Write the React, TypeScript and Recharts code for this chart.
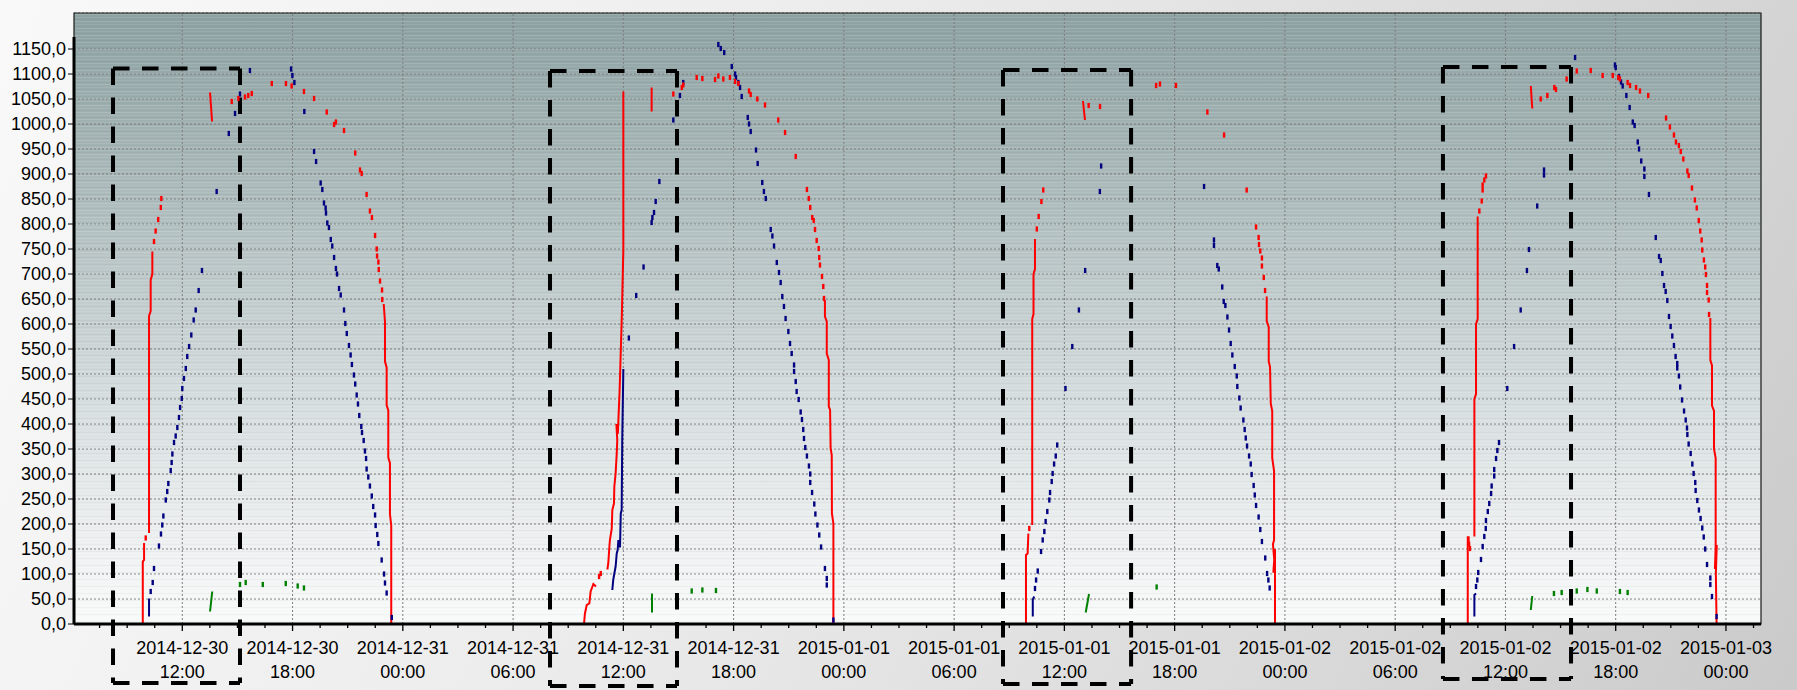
import React from 'react';
import {
  ComposedChart,
  XAxis,
  YAxis,
  CartesianGrid,
  Line,
  Scatter,
  ReferenceArea,
  ReferenceLine,
} from 'recharts';

type P = [number, number];

const FONT = 'Liberation Sans, Arial, sans-serif';

const dayLabels = ['2014-12-30', '2014-12-31', '2015-01-01', '2015-01-02', '2015-01-03'];
const hourLabels = ['00:00', '06:00', '12:00', '18:00'];
const majorTicks = [12, 18, 24, 30, 36, 42, 48, 54, 60, 66, 72, 78, 84, 90, 96];
const minorTicks = [7.5, 9, 10.5, 13.5, 15, 16.5, 19.5, 21, 22.5, 25.5, 27, 28.5, 31.5, 33, 34.5, 37.5, 39, 40.5, 43.5, 45, 46.5, 49.5, 51, 52.5, 55.5, 57, 58.5, 61.5, 63, 64.5, 67.5, 69, 70.5, 73.5, 75, 76.5, 79.5, 81, 82.5, 85.5, 87, 88.5, 91.5, 93, 94.5, 97.5];
const yTicks = [0, 50, 100, 150, 200, 250, 300, 350, 400, 450, 500, 550, 600, 650, 700, 750, 800, 850, 900, 950, 1000, 1050, 1100, 1150];
const xDomain: [number, number] = [6.107, 97.907];
const yDomain: [number, number] = [0, 1222];

const redLines: P[][] = [
  [[9.85, 0], [9.85, 125], [9.92, 128], [9.92, 162]],
  [[10.19, 182], [10.19, 616], [10.28, 626], [10.28, 688], [10.37, 700], [10.37, 745]],
  [[13.51, 1063], [13.62, 1005]],
  [[22.96, 640], [23.03, 604], [23.03, 525], [23.12, 513], [23.12, 438], [23.21, 427], [23.21, 333], [23.30, 322], [23.30, 220], [23.37, 197], [23.37, 0]],
  [[33.86, 0], [33.91, 21], [34.01, 38], [34.15, 41], [34.22, 65], [34.37, 80], [34.51, 75]],
  [[35.13, 109], [35.18, 121], [35.24, 155], [35.27, 168], [35.37, 191], [35.40, 228], [35.49, 241], [35.51, 275], [35.58, 301], [35.64, 341], [35.67, 368], [35.62, 400], [35.70, 380], [35.80, 470], [35.92, 620], [35.97, 700], [36.0, 748], [36.0, 1065]],
  [[37.54, 1073], [37.54, 1025]],
  [[46.97, 648], [46.97, 615], [47.07, 605], [47.07, 541], [47.18, 528], [47.18, 435], [47.25, 428], [47.28, 351], [47.34, 338], [47.35, 221], [47.43, 201], [47.43, 0]],
  [[57.91, 0], [57.91, 138], [58.0, 141], [58.04, 181]],
  [[58.25, 198], [58.25, 610], [58.32, 620], [58.32, 700], [58.40, 710], [58.40, 770]],
  [[61.01, 1046], [61.12, 1008]],
  [[71.01, 655], [71.01, 606], [71.12, 594], [71.12, 525], [71.19, 514], [71.23, 441], [71.31, 426], [71.31, 332], [71.41, 306], [71.41, 168], [71.35, 160], [71.46, 110], [71.37, 103], [71.46, 150], [71.46, 0]],
  [[81.95, 0], [81.95, 175]],
  [[82.31, 175], [82.31, 450], [82.40, 460], [82.40, 600], [82.49, 610], [82.49, 815]],
  [[85.38, 1076], [85.46, 1031]],
  [[95.15, 612], [95.15, 528], [95.24, 517], [95.24, 437], [95.35, 426], [95.35, 350], [95.44, 332], [95.44, 154], [95.40, 110], [95.50, 158], [95.45, 101], [95.49, 0]],
];

const redDots: P[] = [
  [10.01, 172], [10.46, 765], [10.55, 786], [10.69, 809], [10.83, 833], [10.86, 851],
  [14.69, 1045], [15.05, 1051], [15.41, 1054], [15.59, 1057], [15.78, 1061], [16.87, 1081], [17.64, 1081], [17.95, 1076],
  [18.62, 1065], [19.17, 1051], [19.86, 1024], [20.36, 1004], [20.26, 999], [20.80, 987], [21.41, 942], [21.67, 908],
  [21.76, 901], [22.03, 859], [22.21, 826], [22.32, 813], [22.49, 777], [22.58, 750], [22.60, 736], [22.67, 724],
  [22.69, 709], [22.76, 686], [22.87, 668], [22.88, 649],
  [34.68, 95], [34.77, 101],
  [38.72, 1060], [39.18, 1073], [39.26, 1078], [39.99, 1093], [40.30, 1091], [40.99, 1089], [41.17, 1096], [41.44, 1090],
  [41.80, 1093], [42.08, 1085], [42.26, 1081], [42.84, 1066], [42.93, 1059], [43.29, 1050], [43.71, 1038], [44.43, 1008],
  [44.80, 983], [45.38, 935], [45.99, 869], [46.09, 851], [46.17, 833], [46.28, 813], [46.36, 807], [46.43, 789],
  [46.52, 767], [46.63, 751], [46.66, 733], [46.70, 718], [46.81, 695], [46.88, 675], [46.92, 651],
  [58.09, 191], [58.5, 790], [58.6, 815], [58.75, 845], [58.85, 868],
  [61.32, 1037], [61.94, 1035], [64.99, 1077], [65.20, 1080], [66.07, 1077], [67.78, 1024], [68.69, 978], [69.92, 868],
  [70.43, 794], [70.57, 773], [70.59, 759], [70.66, 746], [70.75, 732], [70.75, 716], [70.85, 693], [70.92, 667],
  [81.99, 170], [82.02, 160], [82.07, 151],
  [82.58, 826], [82.71, 846], [82.76, 868], [82.76, 878], [82.85, 888], [82.94, 896],
  [85.92, 1050], [86.28, 1057], [86.66, 1073], [86.75, 1069], [87.33, 1090], [87.88, 1106], [88.64, 1107], [89.29, 1097],
  [89.84, 1097], [90.14, 1093], [90.23, 1090], [90.65, 1083], [90.78, 1077], [91.11, 1073], [91.32, 1066], [91.77, 1057],
  [92.74, 1012], [92.95, 994], [93.17, 978], [93.28, 964], [93.44, 957], [93.54, 945], [93.68, 930], [93.90, 906],
  [93.97, 897], [94.15, 872], [94.31, 848], [94.41, 832], [94.52, 807], [94.60, 786], [94.68, 768], [94.71, 748],
  [94.80, 728], [94.87, 714], [94.91, 699], [94.97, 677], [94.97, 663], [95.06, 648], [95.08, 619],
];

const blueLines: P[][] = [
  [[10.19, 15], [10.19, 51]],
  [[35.40, 68], [35.45, 88], [35.51, 101], [35.58, 115], [35.64, 141], [35.69, 148], [35.73, 168], [35.76, 155], [35.82, 155], [35.86, 221], [35.91, 228], [35.94, 368], [36.0, 510]],
  [[58.28, 15], [58.28, 49], [58.36, 55]],
  [[82.31, 15], [82.31, 58], [82.40, 61]],
];

const blueDots: P[] = [
  [10.28, 65], [10.39, 83], [10.46, 111], [10.73, 156], [10.84, 180], [10.91, 198], [10.97, 216], [11.10, 248],
  [11.18, 265], [11.24, 281], [11.37, 307], [11.42, 323], [11.46, 340], [11.55, 363], [11.64, 376], [11.73, 393],
  [11.82, 413], [11.88, 433], [11.97, 451], [12.0, 471], [12.09, 491], [12.19, 511], [12.27, 535], [12.37, 555],
  [12.49, 578], [12.62, 608], [12.73, 628], [12.89, 667], [13.07, 707], [13.87, 865], [14.53, 981], [14.87, 1021],
  [15.14, 1060], [15.68, 1107], [17.92, 1110], [17.99, 1097], [18.10, 1083], [18.64, 1025], [19.17, 945], [19.28, 925],
  [19.53, 882], [19.62, 869], [19.71, 842], [19.80, 832], [19.82, 822], [19.89, 802], [19.98, 793], [20.08, 769],
  [20.16, 756], [20.26, 733], [20.36, 711], [20.42, 700], [20.53, 671], [20.62, 658], [20.80, 628], [20.87, 601],
  [20.95, 581], [21.07, 557], [21.16, 538], [21.23, 519], [21.34, 498], [21.41, 480], [21.49, 458], [21.56, 440],
  [21.63, 417], [21.74, 395], [21.78, 383], [21.87, 367], [21.94, 346], [22.0, 331], [22.03, 310], [22.12, 294],
  [22.21, 276], [22.31, 256], [22.39, 235], [22.49, 218], [22.52, 197], [22.61, 179], [22.67, 161], [22.85, 128],
  [22.98, 100], [23.03, 82], [23.12, 62], [23.40, 13],
  [36.3, 572], [36.7, 657], [37.1, 714], [37.54, 803], [37.58, 813], [37.67, 823], [37.76, 845], [37.96, 885],
  [38.72, 1008], [39.08, 1057], [39.26, 1083],
  [41.17, 1159], [41.30, 1151], [41.49, 1143], [41.90, 1115], [42.08, 1100], [42.13, 1093], [42.26, 1083], [42.35, 1073],
  [42.44, 1055], [42.77, 1013], [42.84, 1000], [42.93, 985], [43.22, 948], [43.31, 921], [43.56, 883], [43.65, 865],
  [43.75, 851], [44.02, 789], [44.11, 776], [44.20, 756], [44.35, 723], [44.47, 703], [44.56, 683], [44.65, 655],
  [44.74, 635], [44.83, 611], [44.98, 585], [45.07, 561], [45.16, 541], [45.29, 518], [45.29, 505], [45.38, 485],
  [45.43, 465], [45.54, 449], [45.65, 424], [45.72, 409], [45.79, 389], [45.83, 371], [45.90, 353], [45.99, 336],
  [46.10, 316], [46.17, 300], [46.17, 283], [46.27, 263], [46.39, 240], [46.45, 220], [46.56, 198], [46.66, 178],
  [46.76, 154], [46.97, 111], [47.07, 91], [47.07, 78], [47.43, 8],
  [58.40, 71], [58.46, 88], [58.55, 106], [58.73, 145], [58.82, 168], [58.91, 185], [58.98, 205], [59.07, 225],
  [59.18, 248], [59.22, 263], [59.31, 285], [59.36, 301], [59.44, 320], [59.53, 336], [59.61, 358], [60.06, 471],
  [60.43, 555], [60.79, 628], [61.13, 707], [61.93, 865], [62.0, 916],
  [67.60, 875], [68.14, 768], [68.14, 757], [68.32, 717], [68.40, 710], [68.59, 674], [68.67, 645], [68.76, 637],
  [68.87, 614], [68.96, 588], [69.05, 561], [69.14, 538], [69.27, 515], [69.38, 496], [69.41, 475], [69.52, 452],
  [69.59, 432], [69.74, 408], [69.81, 389], [69.87, 372], [69.94, 356], [70.05, 336], [70.14, 320], [70.19, 299],
  [70.30, 277], [70.36, 258], [70.43, 237], [70.57, 214], [70.66, 189], [70.75, 165], [70.93, 132], [71.03, 101],
  [71.10, 88], [71.17, 72],
  [82.40, 75], [82.47, 88], [82.52, 103], [82.67, 129], [82.76, 155], [82.85, 175], [82.93, 191], [82.94, 207],
  [83.04, 225], [83.12, 241], [83.22, 261], [83.25, 276], [83.39, 296], [83.39, 309], [83.49, 331], [83.56, 347],
  [83.65, 363], [84.1, 471], [84.47, 555], [84.83, 628], [85.17, 707], [85.28, 749], [85.73, 836], [86.10, 908],
  [86.10, 898], [87.79, 1133], [89.96, 1118], [90.0, 1113], [90.18, 1095], [90.29, 1084], [90.38, 1076], [90.58, 1057],
  [90.76, 1033], [90.93, 1004], [91.03, 997], [91.20, 964], [91.27, 950], [91.39, 926], [91.56, 910], [91.56, 895],
  [91.81, 859], [92.18, 773], [92.36, 735], [92.45, 727], [92.54, 701], [92.63, 677], [92.72, 665], [92.81, 647],
  [92.90, 615], [92.99, 595], [93.08, 576], [93.17, 557], [93.26, 535], [93.35, 521], [93.35, 512], [93.44, 496],
  [93.51, 474], [93.61, 448], [93.72, 426], [93.81, 408], [93.88, 392], [93.90, 379], [93.97, 360], [94.08, 341],
  [94.17, 320], [94.24, 301], [94.33, 283], [94.35, 267], [94.44, 247], [94.53, 228], [94.62, 211], [94.71, 192],
  [94.79, 174], [94.87, 150], [94.97, 119], [95.15, 92], [95.15, 79], [95.24, 55], [95.49, 15],
];

const greenLines: P[][] = [
  [[13.51, 25], [13.63, 65]],
  [[37.56, 23], [37.56, 61]],
  [[61.16, 23], [61.34, 60]],
  [[85.38, 28], [85.46, 56]],
];

const greenDots: P[] = [
  [15.14, 79], [15.45, 83], [16.38, 79], [17.63, 81], [18.28, 76], [18.62, 72],
  [39.72, 66], [40.30, 68], [41.04, 67],
  [65.02, 74],
  [86.64, 61], [87.06, 63], [87.88, 66], [88.46, 69], [88.97, 66], [90.23, 65], [90.65, 63],
];

// dashed annotation boxes: [t1, t2, top value, bottom value]
const boxes: [number, number, number, number][] = [
  [8.23, 15.14, 1111, -118],
  [32.01, 38.92, 1106, -124],
  [56.66, 63.63, 1108, -120],
  [80.60, 87.57, 1114, -110],
];

const toPts = (a: P[]) => a.map(([t, v]) => ({ t, v }));
const fmtY = (v: number) => v.toFixed(1).replace('.', ',');

const XTick = (props: any) => {
  const { x, y, payload } = props;
  const t = payload.value as number;
  const major = Math.abs(t / 6 - Math.round(t / 6)) < 1e-6;
  if (!major) {
    return <line x1={x} x2={x} y1={y} y2={y + 4} stroke="#000" strokeWidth={1.3} />;
  }
  const day = Math.floor(t / 24 + 1e-9);
  const hr = Math.round((t - day * 24) / 6);
  return (
    <g>
      <line x1={x} x2={x} y1={y} y2={y + 7} stroke="#000" strokeWidth={1.3} />
      <text x={x} y={y + 30} textAnchor="middle" fontSize={18} fontFamily={FONT} fill="#000">
        {dayLabels[day]}
      </text>
      <text x={x} y={y + 53.5} textAnchor="middle" fontSize={18} fontFamily={FONT} fill="#000">
        {hourLabels[hr]}
      </text>
    </g>
  );
};

const dotShape = (color: string) => (p: any) => (
  <rect x={p.cx - 1.2} y={p.cy - 2.6} width={2.4} height={5.2} fill={color} />
);

const RED = '#ff0000';
const BLUE = '#000080';
const GREEN = '#008000';

export default function App() {
  const allTicks = [...majorTicks, ...minorTicks].sort((a, b) => a - b);
  const boxEdges: { k: string; seg: { x: number; y: number }[] }[] = [];
  boxes.forEach(([t1, t2, top, bot], i) => {
    boxEdges.push({ k: `t${i}`, seg: [{ x: t1, y: top }, { x: t2, y: top }] });
    boxEdges.push({ k: `r${i}`, seg: [{ x: t2, y: top }, { x: t2, y: bot }] });
    boxEdges.push({ k: `b${i}`, seg: [{ x: t1, y: bot }, { x: t2, y: bot }] });
    boxEdges.push({ k: `l${i}`, seg: [{ x: t1, y: top }, { x: t1, y: bot }] });
  });
  return (
    <div
      style={{
        position: 'absolute',
        left: 0,
        top: 0,
        width: 1797,
        height: 690,
        overflow: 'visible',
        background: 'linear-gradient(115deg, #f9f9f9 0%, #ececec 40%, #dadada 75%, #cacaca 100%)',
      }}
    >
      <ComposedChart
        width={1797}
        height={690}
        margin={{ top: 13, right: 36, bottom: 0, left: 8 }}
        style={{ overflow: 'visible' }}
      >
        <defs>
          <linearGradient id="plotBg" x1="0" y1="0" x2="0" y2="1">
            <stop offset="0%" stopColor="#8da1a2" />
            <stop offset="30%" stopColor="#adbbbc" />
            <stop offset="60%" stopColor="#d2dadb" />
            <stop offset="85%" stopColor="#eceff0" />
            <stop offset="100%" stopColor="#f9fafa" />
          </linearGradient>
          <pattern id="stripes" width="8" height="7" patternUnits="userSpaceOnUse">
            <rect x="0" y="0" width="8" height="1" fill="#ffffff" fillOpacity="0.14" />
            <rect x="0" y="3" width="8" height="1" fill="#ffffff" fillOpacity="0.08" />
            <rect x="0" y="5" width="8" height="1" fill="#000000" fillOpacity="0.03" />
          </pattern>
        </defs>
        <CartesianGrid vertical={false} stroke="#7d7d7d" strokeDasharray="2 2" fill="url(#plotBg)" fillOpacity={1} />
        <XAxis
          type="number"
          dataKey="t"
          domain={xDomain}
          allowDataOverflow
          ticks={allTicks}
          interval={0}
          tick={<XTick />}
          tickLine={false}
          tickSize={0}
          tickMargin={0}
          height={66}
          axisLine={{ stroke: '#000', strokeWidth: 3 }}
        />
        <YAxis
          type="number"
          dataKey="v"
          domain={yDomain}
          allowDataOverflow
          ticks={yTicks}
          interval={0}
          width={66}
          tickSize={6}
          tickMargin={2}
          tickLine={{ stroke: '#000' }}
          axisLine={false}
          tickFormatter={fmtY}
          tick={{ fontSize: 18, fill: '#000', fontFamily: FONT }}
        />
        <ReferenceArea
          x1={xDomain[0]}
          x2={xDomain[1]}
          y1={yDomain[0]}
          y2={yDomain[1]}
          fill="url(#stripes)"
          fillOpacity={1}
          stroke="none"
          ifOverflow="hidden"
        />
        {majorTicks.map((t) => (
          <ReferenceLine key={'vg' + t} x={t} stroke="#7d7d7d" strokeDasharray="2 2" />
        ))}
        <ReferenceArea
          x1={xDomain[0]}
          x2={xDomain[1]}
          y1={yDomain[0]}
          y2={yDomain[1]}
          fill="none"
          fillOpacity={0}
          stroke="#1a1a1a"
          strokeWidth={1.2}
          ifOverflow="visible"
        />
        <ReferenceLine
          segment={[
            { x: xDomain[0], y: 0 },
            { x: xDomain[0], y: 1174 },
          ]}
          stroke="#000"
          strokeWidth={3}
          ifOverflow="visible"
        />
        {greenLines.map((s, i) => (
          <Line key={'gl' + i} data={toPts(s)} dataKey="v" stroke={GREEN} strokeWidth={2} dot={false} activeDot={false} isAnimationActive={false} type="linear" />
        ))}
        {blueLines.map((s, i) => (
          <Line key={'bl' + i} data={toPts(s)} dataKey="v" stroke={BLUE} strokeWidth={2} dot={false} activeDot={false} isAnimationActive={false} type="linear" />
        ))}
        {redLines.map((s, i) => (
          <Line key={'rl' + i} data={toPts(s)} dataKey="v" stroke={RED} strokeWidth={2} dot={false} activeDot={false} isAnimationActive={false} type="linear" />
        ))}
        <Scatter data={toPts(greenDots)} dataKey="v" shape={dotShape(GREEN)} isAnimationActive={false} />
        <Scatter data={toPts(blueDots)} dataKey="v" shape={dotShape(BLUE)} isAnimationActive={false} />
        <Scatter data={toPts(redDots)} dataKey="v" shape={dotShape(RED)} isAnimationActive={false} />
        {boxEdges.map((e) => (
          <ReferenceLine
            key={e.k}
            segment={e.seg}
            stroke="#000"
            strokeWidth={4}
            strokeDasharray="16.5 12.5"
            ifOverflow="visible"
          />
        ))}
      </ComposedChart>
    </div>
  );
}
